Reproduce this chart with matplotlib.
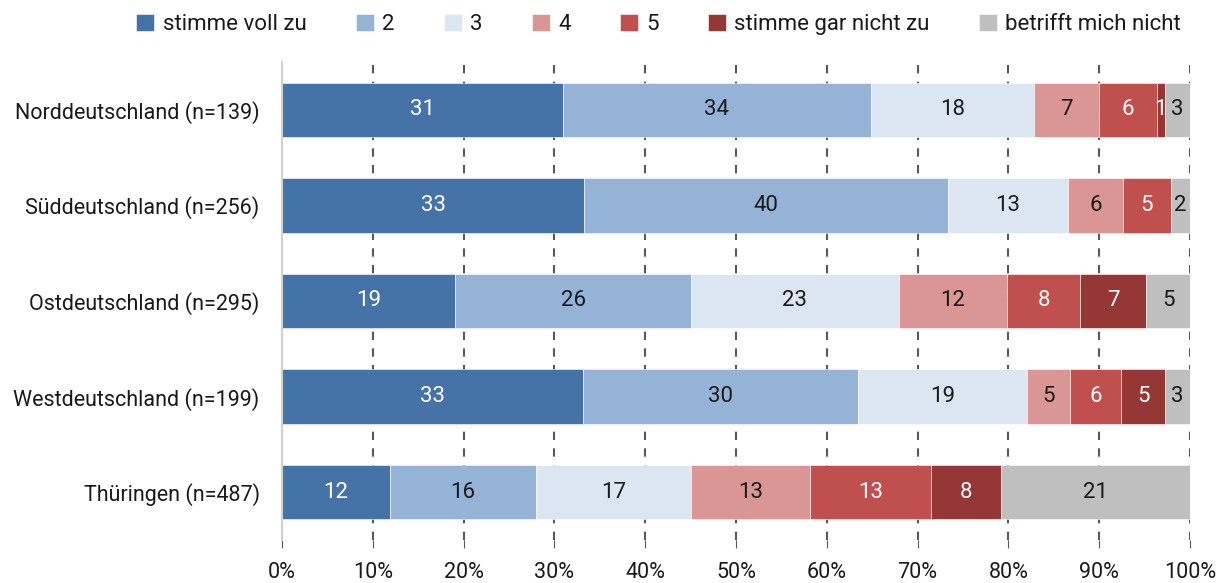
import numpy as np
import matplotlib.pyplot as plt

plt.rcParams['font.family'] = ['Roboto', 'DejaVu Sans']

# Daten (Anteile in %)
regionen = ["Norddeutschland (n=139)", "Süddeutschland (n=256)", "Ostdeutschland (n=295)",
            "Westdeutschland (n=199)", "Thüringen (n=487)"]
kategorien = ["stimme voll zu", "2", "3", "4", "5", "stimme gar nicht zu", "betrifft mich nicht"]
farben = ["#4572a7", "#95b3d7", "#dce6f2", "#d99694", "#c0504d", "#953735", "#bfbfbf"]
textfarben = ["white", "#1a1a1a", "#1a1a1a", "#1a1a1a", "white", "white", "#1a1a1a"]

nord = [30.9, 34.0, 17.9, 7.2, 6.4, 0.8, 2.8]
sued = [33.3, 40.0, 13.3, 6.0, 5.3, 0.0, 2.1]
ost = [19.1, 26.0, 22.8, 12.0, 8.0, 7.3, 4.8]
west = [33.2, 30.2, 18.7, 4.7, 5.6, 4.9, 2.7]
thueringen = [11.9, 16.1, 17.1, 13.0, 13.4, 7.7, 20.8]

anteile = np.array([nord, sued, ost, west, thueringen])

fig = plt.figure(figsize=(12.2, 5.83), dpi=100)
ax = fig.add_axes([0.2311, 0.0738, 0.7443, 0.8199])

y = np.arange(len(regionen))
links = np.zeros(len(regionen))
for i, kat in enumerate(kategorien):
    ax.barh(y, anteile[:, i], left=links, height=0.57, color=farben[i],
            label=kat, zorder=2, edgecolor="white", linewidth=0.4)
    for j in range(len(regionen)):
        wert = anteile[j, i]
        if wert == 0:
            continue
        ax.text(links[j] + wert / 2, y[j], f"{wert:.0f}",
                ha="center", va="center", fontsize=16, color=textfarben[i], zorder=3)
    links += anteile[:, i]

ax.set_xlim(0, 100)
ax.set_ylim(4.5, -0.5)
ax.set_yticks(y)
ax.set_yticklabels(regionen, fontsize=15.5, color="#1a1a1a")
ax.set_xticks(np.arange(0, 101, 10))
ax.set_xticklabels([f"{v}%" for v in range(0, 101, 10)], fontsize=15.5, color="#1a1a1a")
ax.tick_params(axis="y", length=0, pad=16)
ax.tick_params(axis="x", length=6, color="#595959", pad=10)

for s in ["top", "right", "bottom"]:
    ax.spines[s].set_visible(False)
ax.spines["left"].set_color("#d0d0d0")
ax.spines["left"].set_linewidth(1.5)

for x in range(10, 101, 10):
    ax.axvline(x, color="#595959", linestyle=(0, (4, 4)), linewidth=1.5, zorder=1)

fig.legend(loc="upper center", bbox_to_anchor=(0.54, 1.01), ncol=7, frameon=False,
           fontsize=16, handlelength=0.8, handleheight=0.8, handletextpad=0.4,
           columnspacing=2.2, labelcolor="#1a1a1a")

fig.savefig("out.png", dpi=100)
